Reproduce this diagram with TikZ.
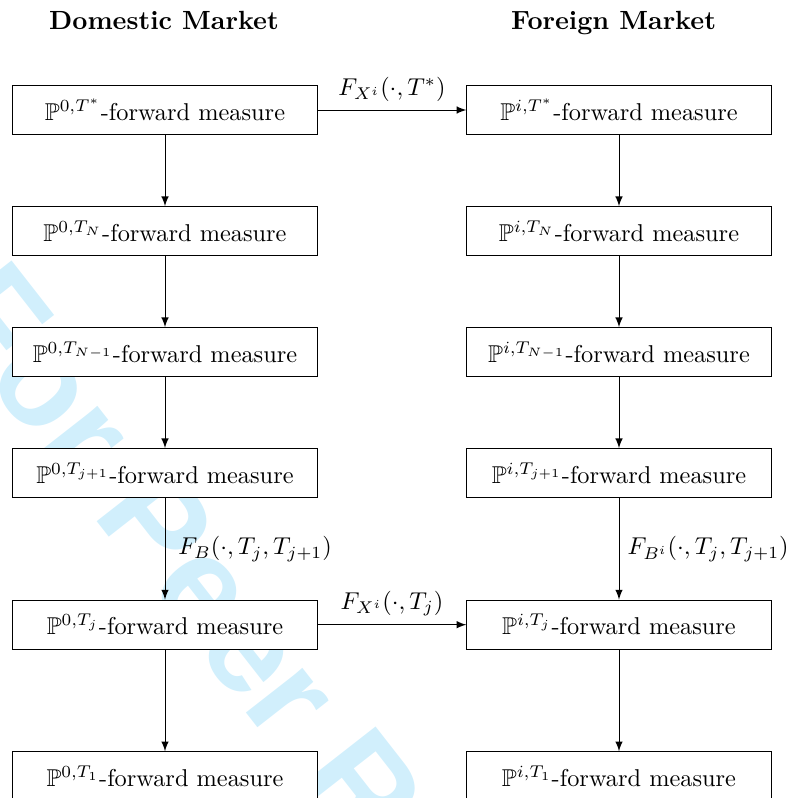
\documentclass[tikz,border=0pt]{standalone}
\usepackage{amssymb}
\usepackage{fontspec}
\usepackage{tikz}
\usepackage{xcolor}
\usetikzlibrary{arrows}
\newfontfamily\wmFont{Liberation Sans}
\definecolor{wmColor}{HTML}{D1EFFC}
\definecolor{boxColor}{HTML}{000000}
\definecolor{linkColor}{HTML}{000000}
\tikzset{
  measureBox/.style={draw=boxColor, fill=white, rectangle, minimum width=124.9pt,
    minimum height=20.2pt, inner sep=0pt, anchor=center},
  marketTitle/.style={anchor=base, font=\bfseries\fontsize{10.8}{13}\selectfont},
  link/.style={color=linkColor, -latex},
  wmark/.style={text=wmColor, anchor=center, inner sep=0pt,
    font=\wmFont\bfseries\fontsize{56}{56}\selectfont}
}

\begin{document}
\begin{tikzpicture}[x=0.4107pt,y=-0.4107pt]
\useasboundingbox (0, 0) rectangle (791, 798);

% watermark layer
\begin{scope}
\node[wmark, rotate=-52] (wm) at (298, 700) {For Peer Review};
\end{scope}

% titles
\begin{scope}
\node[marketTitle] (domTitle) at (164, 29) {Domestic Market};
\node[marketTitle] (forTitle) at (613.5, 29) {Foreign Market};
\end{scope}

% domestic measures
\begin{scope}
\node[measureBox] (dTstar) at (165, 110) {$\mathbb{P}^{0,T^*}$-forward measure};
\node[measureBox] (dTN) at (165, 231.3) {$\mathbb{P}^{0,T_N}$-forward measure};
\node[measureBox] (dTNm) at (165, 352.3) {$\mathbb{P}^{0,T_{N-1}}$-forward measure};
\node[measureBox] (dTjp) at (165, 473.3) {$\mathbb{P}^{0,T_{j+1}}$-forward measure};
\node[measureBox] (dTj) at (165, 624.7) {$\mathbb{P}^{0,T_j}$-forward measure};
\node[measureBox] (dT1) at (165, 776.4) {$\mathbb{P}^{0,T_1}$-forward measure};
\end{scope}

% foreign measures
\begin{scope}
\node[measureBox] (fTstar) at (619, 110) {$\mathbb{P}^{i,T^*}$-forward measure};
\node[measureBox] (fTN) at (619, 231.3) {$\mathbb{P}^{i,T_N}$-forward measure};
\node[measureBox] (fTNm) at (619, 352.3) {$\mathbb{P}^{i,T_{N-1}}$-forward measure};
\node[measureBox] (fTjp) at (619, 473.3) {$\mathbb{P}^{i,T_{j+1}}$-forward measure};
\node[measureBox] (fTj) at (619, 624.7) {$\mathbb{P}^{i,T_j}$-forward measure};
\node[measureBox] (fT1) at (619, 776.4) {$\mathbb{P}^{i,T_1}$-forward measure};
\end{scope}

% link layer
\begin{scope}
\draw[link] (dTstar) -- (dTN);
\draw[link] (dTN) -- (dTNm);
\draw[link] (dTNm) -- (dTjp);
\draw[link] (dTjp) -- node[midway, right, xshift=2pt] (lblB) {$F_B(\cdot,T_j,T_{j+1})$} (dTj);
\draw[link] (dTj) -- (dT1);
\draw[link] (fTstar) -- (fTN);
\draw[link] (fTN) -- (fTNm);
\draw[link] (fTNm) -- (fTjp);
\draw[link] (fTjp) -- node[midway, right] (lblBi) {$F_{B^i}(\cdot,T_j,T_{j+1})$} (fTj);
\draw[link] (fTj) -- (fT1);
\draw[link] (dTstar) -- node[midway, above] (lblXstar) {$F_{X^i}(\cdot,T^*)$} (fTstar);
\draw[link] (dTj) -- node[midway, above] (lblXj) {$F_{X^i}(\cdot,T_j)$} (fTj);
\end{scope}
\end{tikzpicture}
\end{document}
